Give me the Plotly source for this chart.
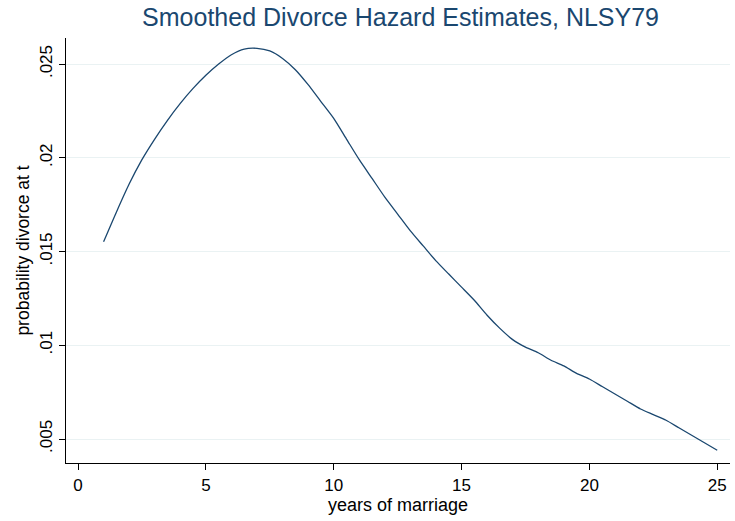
import plotly.graph_objects as go

# Smoothed hazard of divorce by years of marriage (NLSY79)
years = [1, 1.5, 2, 2.5, 3, 3.5, 4, 4.5, 5, 5.5, 6, 6.5, 7, 7.5, 8, 8.5, 9, 9.5,
         10, 10.5, 11, 11.5, 12, 12.5, 13, 13.5, 14, 14.5, 15, 15.5, 16, 16.5,
         17, 17.5, 18, 18.5, 19, 19.5, 20, 20.5, 21, 21.5, 22, 22.5, 23, 23.5,
         24, 24.5, 25]
hazard = [0.01552, 0.0171, 0.0186, 0.0199, 0.0210, 0.0220, 0.0229, 0.0237, 0.0244,
          0.0250, 0.0255, 0.0258, 0.02584, 0.0257, 0.0253, 0.0247, 0.0239, 0.0230,
          0.0221, 0.0210, 0.0199, 0.0189, 0.0179, 0.0170, 0.0161, 0.0153, 0.0145,
          0.0138, 0.0131, 0.0124, 0.0116, 0.0109, 0.0103, 0.0099, 0.0096, 0.0092,
          0.0089, 0.0085, 0.0082, 0.0078, 0.0074, 0.0070, 0.0066, 0.0063, 0.0060,
          0.0056, 0.0052, 0.0048, 0.0044]

x_ticks = [0, 5, 10, 15, 20, 25]
y_ticks = [0.005, 0.01, 0.015, 0.02, 0.025]
y_tick_text = [".005", ".01", ".015", ".02", ".025"]

navy = "#1a476f"
font_family = "Liberation Sans, Arial, sans-serif"

fig = go.Figure()
fig.add_trace(go.Scatter(
    x=years, y=hazard, mode="lines",
    line=dict(color=navy, width=1.3, shape="spline", smoothing=0.6),
    showlegend=False, hoverinfo="skip",
))

fig.update_layout(
    width=735, height=521,
    margin=dict(l=66, r=5, t=38, b=58),
    paper_bgcolor="white", plot_bgcolor="white",
    font=dict(family=font_family, color="black", size=17),
    title=dict(
        text="Smoothed Divorce Hazard Estimates, NLSY79",
        x=0.545, xanchor="center", y=0.966, yanchor="middle",
        font=dict(size=25, color=navy, family=font_family),
    ),
    xaxis=dict(
        range=[-0.47, 25.5],
        tickvals=x_ticks, ticktext=[str(v) for v in x_ticks],
        showline=True, linecolor="black", linewidth=1.3,
        ticks="outside", ticklen=6, tickcolor="black", tickwidth=1.3,
        showgrid=False, zeroline=False,
        tickfont=dict(size=17),
        title=dict(text="years of marriage", font=dict(size=18), standoff=0),
    ),
    yaxis=dict(
        range=[0.00372, 0.02639],
        tickvals=y_ticks, ticktext=y_tick_text, tickangle=-90,
        showline=True, linecolor="black", linewidth=1.3,
        ticks="outside", ticklen=6, tickcolor="black", tickwidth=1.3,
        showgrid=True, gridcolor="#eaf2f3", gridwidth=1.2,
        zeroline=False,
        tickfont=dict(size=17),
        title=dict(text="probability divorce at t", font=dict(size=17.5), standoff=2),
    ),
)

fig.write_html("out.html")
